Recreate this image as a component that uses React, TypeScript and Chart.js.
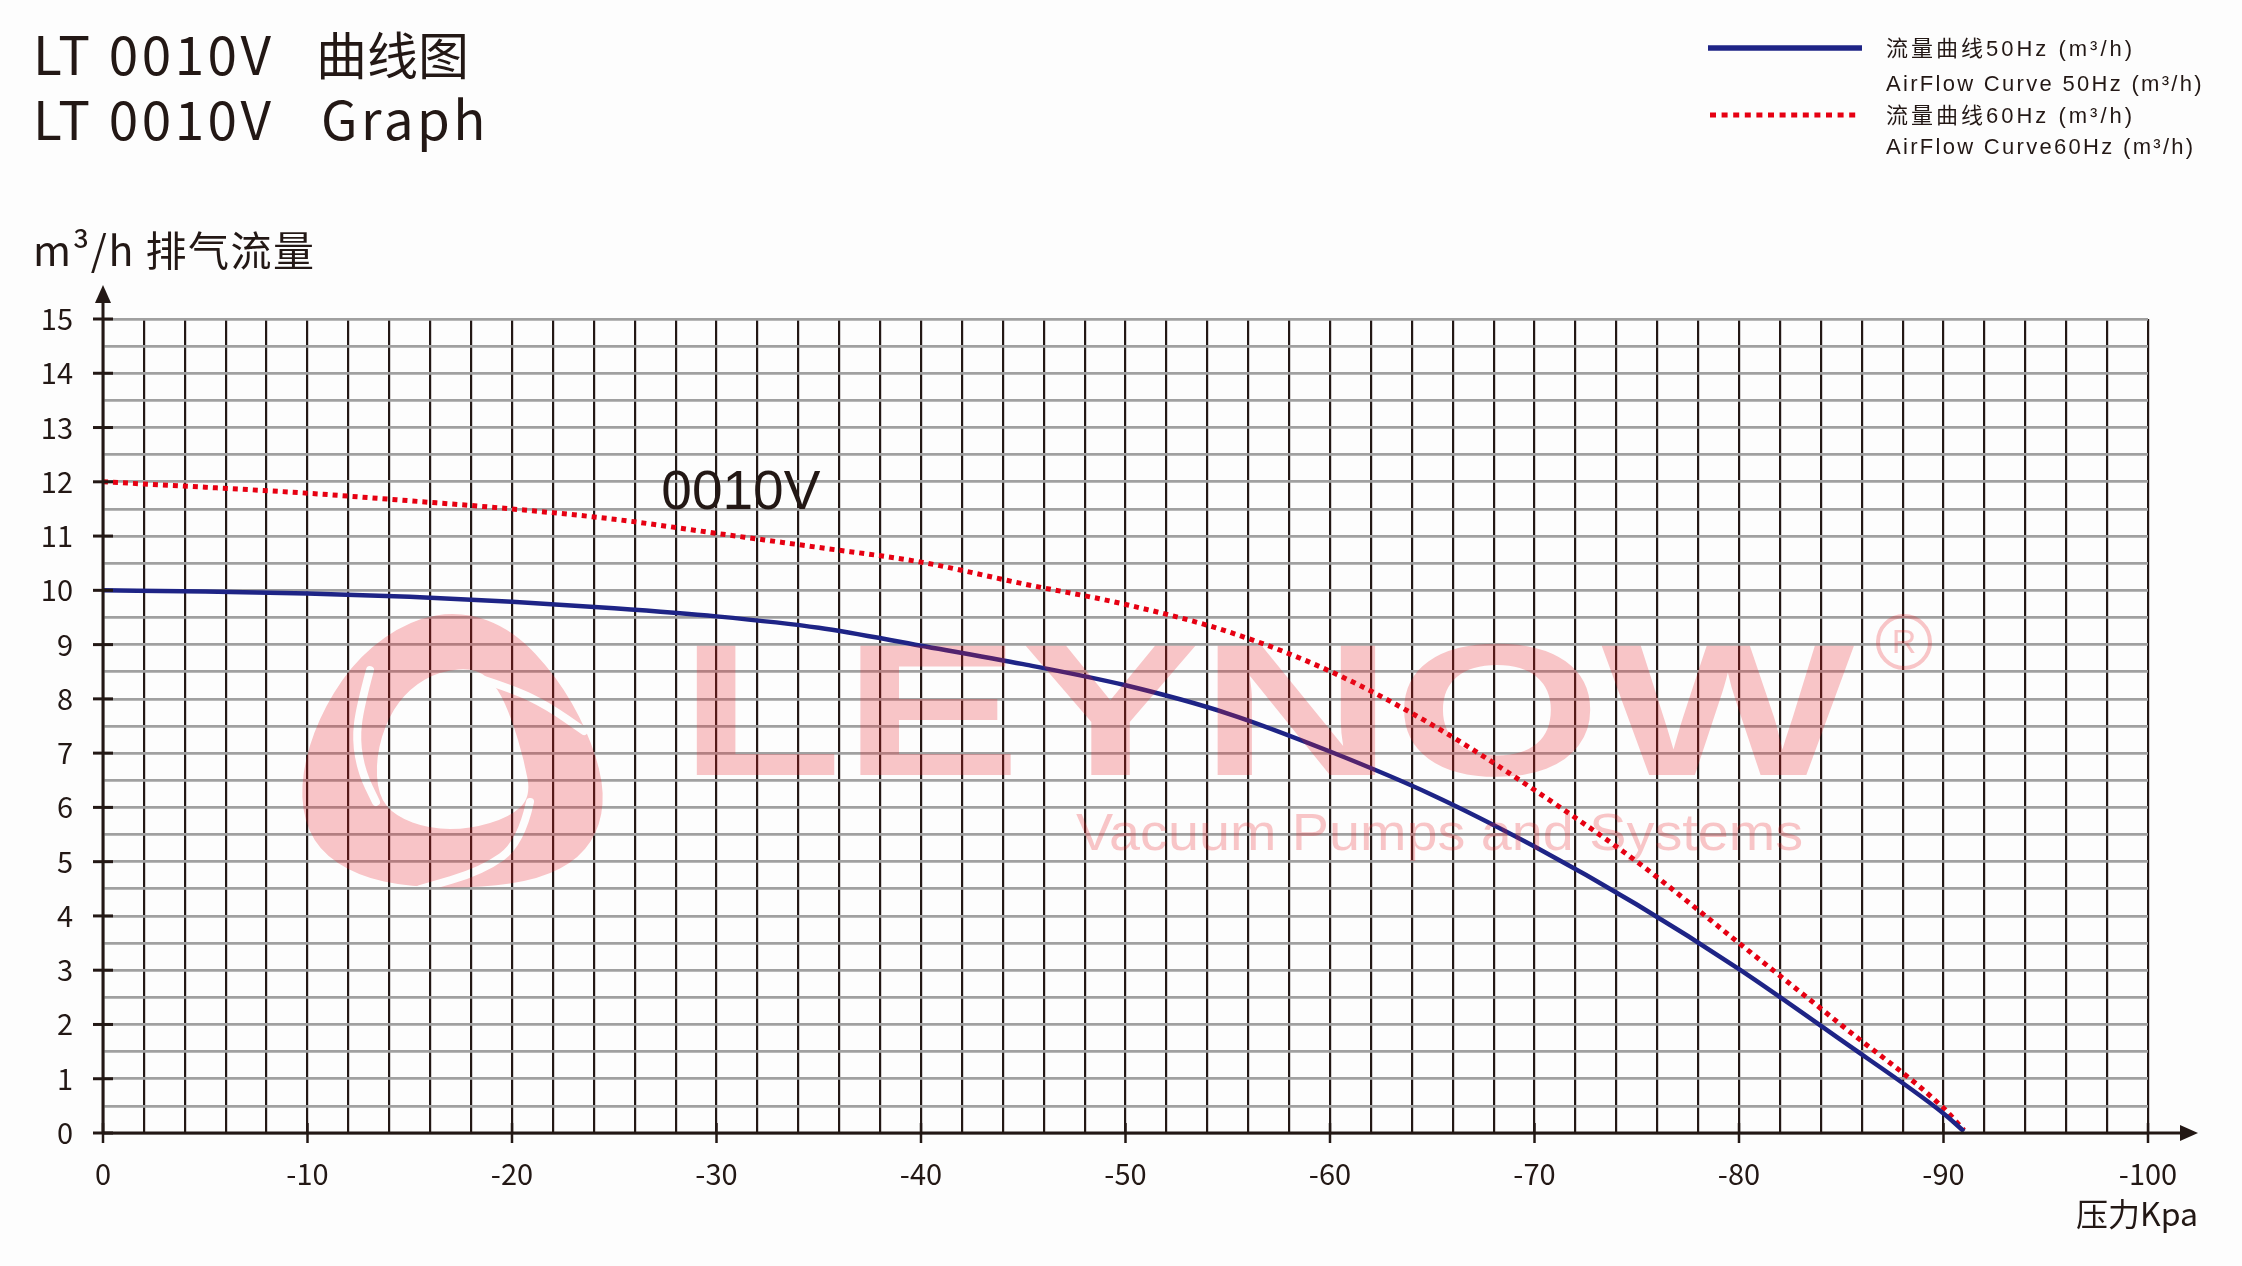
import React, { useEffect, useRef } from 'react';
import { Chart, registerables } from 'chart.js';

Chart.register(...registerables);

// ---------- data ----------
const pressure50 = [0, -5, -10, -15, -20, -25, -30, -35, -40, -45, -50, -55, -60, -65, -70, -75, -80, -85, -90, -91];
const flow50 = [10.0, 9.98, 9.94, 9.88, 9.79, 9.67, 9.52, 9.31, 8.98, 8.64, 8.25, 7.73, 7.03, 6.23, 5.28, 4.21, 3.02, 1.71, 0.36, 0.03];

const pressure60 = [0, -5, -10, -15, -20, -25, -30, -35, -40, -45, -50, -55, -60, -65, -70, -75, -80, -85, -90, -91];
const flow60 = [12.0, 11.9, 11.79, 11.65, 11.5, 11.31, 11.05, 10.79, 10.52, 10.12, 9.74, 9.24, 8.51, 7.52, 6.32, 5.0, 3.5, 1.99, 0.46, 0.05];

const xTickLabels = [0, -10, -20, -30, -40, -50, -60, -70, -80, -90, -100];
const yTickLabels = [0, 1, 2, 3, 4, 5, 6, 7, 8, 9, 10, 11, 12, 13, 14, 15];

const titleLines = [['LT 0010V', '曲线图'], ['LT 0010V', 'Graph']];
const yAxisTitle = 'm³/h 排气流量';
const xAxisTitle = '压力Kpa';
const legend50 = ['流量曲线50Hz (m³/h)', 'AirFlow Curve 50Hz (m³/h)'];
const legend60 = ['流量曲线60Hz (m³/h)', 'AirFlow Curve60Hz (m³/h)'];
const modelLabel = '0010V';
const modelLabelAt = { x: -27.4, y: 11.5 };

const COLOR50 = '#1e2486';
const COLOR60 = '#e60012';
const INK = '#231815';
const CJK = '"Noto Sans CJK SC", "Noto Sans", sans-serif';

// ---------- watermark geometry (decoration) ----------
const LOGO_OUTER: number[][] = [
  [462, 611], [513, 630], [557, 677], [587, 730], [604, 783], [601, 825], [580, 858], [540, 879],
  [480, 888], [410, 887], [358, 876], [318, 850], [301, 810], [304, 760], [325, 705], [360, 655], [410, 620],
];
const LOGO_HOLE: number[][] = [
  [477, 668], [498, 688], [512, 720], [524, 760], [531, 797], [510, 817], [470, 829], [430, 829],
  [395, 816], [378, 795], [376, 757], [388, 717], [410, 688], [440, 671],
];
const LOGO_SLITS: number[][][] = [
  [[370, 670], [360, 707], [356, 740], [362, 773], [376, 802]],
  [[472, 676], [513, 689], [548, 706], [584, 731]],
  [[530, 802], [521, 843], [482, 871], [420, 889]],
];

function closedSmooth(o: CanvasRenderingContext2D, pts: number[][]) {
  const n = pts.length;
  const mid = (a: number[], b: number[]) => [(a[0] + b[0]) / 2, (a[1] + b[1]) / 2];
  const m0 = mid(pts[n - 1], pts[0]);
  o.moveTo(m0[0], m0[1]);
  for (let i = 0; i < n; i++) {
    const p = pts[i];
    const m = mid(p, pts[(i + 1) % n]);
    o.quadraticCurveTo(p[0], p[1], m[0], m[1]);
  }
  o.closePath();
}

function openSmooth(o: CanvasRenderingContext2D, pts: number[][]) {
  o.moveTo(pts[0][0], pts[0][1]);
  for (let i = 1; i < pts.length - 1; i++) {
    const m = [(pts[i][0] + pts[i + 1][0]) / 2, (pts[i][1] + pts[i + 1][1]) / 2];
    o.quadraticCurveTo(pts[i][0], pts[i][1], m[0], m[1]);
  }
  const l = pts[pts.length - 1];
  o.lineTo(l[0], l[1]);
}

function drawWatermark(ctx: CanvasRenderingContext2D, w: number, h: number) {
  const pink = 'rgb(235, 30, 40)';
  const alpha = 0.25;
  // logo
  const off = document.createElement('canvas');
  off.width = w;
  off.height = h;
  const o = off.getContext('2d')!;
  o.fillStyle = pink;
  o.beginPath();
  closedSmooth(o, LOGO_OUTER);
  closedSmooth(o, LOGO_HOLE);
  o.fill('evenodd');
  o.globalCompositeOperation = 'destination-out';
  o.lineCap = 'round';
  o.lineWidth = 8;
  for (const s of LOGO_SLITS) {
    o.beginPath();
    openSmooth(o, s);
    o.stroke();
  }
  ctx.save();
  ctx.setTransform(1, 0, 0, 1, 0, 0);
  const dpr = ctx.canvas.width / w;
  ctx.globalAlpha = alpha;
  ctx.drawImage(off, 0, 0, w * dpr, h * dpr);
  ctx.restore();

  ctx.save();
  ctx.globalAlpha = alpha;
  ctx.fillStyle = pink;
  ctx.strokeStyle = pink;
  // LEYNOW
  ctx.font = 'bold 188px "Liberation Sans", Arial, sans-serif';
  ctx.textBaseline = 'alphabetic';
  ctx.textAlign = 'left';
  let m = ctx.measureText('LEYNOW');
  let gw = m.actualBoundingBoxLeft + m.actualBoundingBoxRight;
  let sx = 1159 / gw;
  ctx.save();
  ctx.translate(696 + m.actualBoundingBoxLeft * sx, 775);
  ctx.scale(sx, 1);
  ctx.fillText('LEYNOW', 0, 0);
  ctx.restore();
  // registered mark
  ctx.lineWidth = 4;
  ctx.beginPath();
  ctx.arc(1904, 642, 26, 0, Math.PI * 2);
  ctx.stroke();
  ctx.font = '34px "Liberation Sans", Arial, sans-serif';
  ctx.textAlign = 'center';
  ctx.textBaseline = 'middle';
  ctx.fillText('R', 1904, 644);
  // tagline
  ctx.font = '52px "Liberation Sans", Arial, sans-serif';
  ctx.textAlign = 'left';
  ctx.textBaseline = 'alphabetic';
  m = ctx.measureText('Vacuum Pumps and Systems');
  gw = m.actualBoundingBoxLeft + m.actualBoundingBoxRight;
  sx = 726 / gw;
  ctx.translate(1076 + m.actualBoundingBoxLeft * sx, 850);
  ctx.scale(sx, 1);
  ctx.fillText('Vacuum Pumps and Systems', 0, 0);
  ctx.restore();
}

const decorPlugin = {
  id: 'decor',
  afterDraw(chart: any) {
    const ctx: CanvasRenderingContext2D = chart.ctx;
    const xs = chart.scales.x;
    const ys = chart.scales.y;
    const x0 = xs.getPixelForValue(0);
    const y0 = ys.getPixelForValue(0);
    const yTop = ys.getPixelForValue(15);
    const xEnd = xs.getPixelForValue(-100);

    ctx.save();
    ctx.strokeStyle = INK;
    ctx.fillStyle = INK;
    // axes
    ctx.lineWidth = 3;
    ctx.beginPath();
    ctx.moveTo(x0, y0 + 1);
    ctx.lineTo(x0, yTop - 20);
    ctx.stroke();
    ctx.beginPath();
    ctx.moveTo(x0, yTop - 34);
    ctx.lineTo(x0 - 8, yTop - 16);
    ctx.lineTo(x0 + 8, yTop - 16);
    ctx.closePath();
    ctx.fill();

    ctx.lineWidth = 3;
    ctx.beginPath();
    ctx.moveTo(x0 - 1, y0);
    ctx.lineTo(xEnd + 35, y0);
    ctx.stroke();
    ctx.beginPath();
    ctx.moveTo(xEnd + 50, y0);
    ctx.lineTo(xEnd + 32, y0 - 8);
    ctx.lineTo(xEnd + 32, y0 + 8);
    ctx.closePath();
    ctx.fill();

    // ticks
    ctx.lineWidth = 3;
    for (const v of yTickLabels) {
      const py = ys.getPixelForValue(v);
      ctx.beginPath();
      ctx.moveTo(x0 - 10, py);
      ctx.lineTo(x0 + 10, py);
      ctx.stroke();
    }
    ctx.lineWidth = 2.5;
    for (const v of xTickLabels) {
      const px = xs.getPixelForValue(v);
      ctx.beginPath();
      ctx.moveTo(px, y0 - 10);
      ctx.lineTo(px, y0 + 10);
      ctx.stroke();
    }

    // titles
    ctx.textAlign = 'left';
    ctx.textBaseline = 'alphabetic';
    ctx.font = `53px ${CJK}`;
    (ctx as any).letterSpacing = '3.5px';
    ctx.fillText(titleLines[0][0], 33, 75);
    ctx.fillText(titleLines[1][0], 33, 140);
    ctx.fillText(titleLines[1][1], 321, 140);
    (ctx as any).letterSpacing = '0px';
    ctx.font = `51px ${CJK}`;
    ctx.fillText(titleLines[0][1], 316, 75);

    (ctx as any).letterSpacing = '1.5px';
    ctx.font = `41px ${CJK}`;
    ctx.fillText(yAxisTitle, 33, 266);
    (ctx as any).letterSpacing = '0px';

    ctx.font = `32px ${CJK}`;
    ctx.textAlign = 'right';
    ctx.fillText(xAxisTitle, xEnd + 50, 1226);

    // model label
    ctx.textAlign = 'left';
    ctx.font = '55px "Liberation Sans", Arial, sans-serif';
    ctx.fillText(modelLabel, xs.getPixelForValue(modelLabelAt.x) - 2, ys.getPixelForValue(modelLabelAt.y));

    // legend
    ctx.strokeStyle = COLOR50;
    ctx.lineWidth = 5.5;
    ctx.beginPath();
    ctx.moveTo(1708, 48);
    ctx.lineTo(1862, 48);
    ctx.stroke();
    ctx.strokeStyle = COLOR60;
    ctx.lineWidth = 5;
    ctx.setLineDash([6, 5.6]);
    ctx.beginPath();
    ctx.moveTo(1710, 115);
    ctx.lineTo(1860, 115);
    ctx.stroke();
    ctx.setLineDash([]);
    ctx.fillStyle = INK;
    ctx.font = '22px "Liberation Sans", "Noto Sans CJK SC", sans-serif';
    (ctx as any).letterSpacing = '3px';
    ctx.fillText(legend50[0], 1886, 56);
    ctx.fillText(legend60[0], 1886, 123);
    (ctx as any).letterSpacing = '2.3px';
    ctx.fillText(legend50[1], 1886, 91);
    ctx.fillText(legend60[1], 1886, 154);
    (ctx as any).letterSpacing = '0px';
    ctx.restore();

    drawWatermark(ctx, chart.width, chart.height);
  },
};

export default function App() {
  const ref = useRef<HTMLCanvasElement | null>(null);

  useEffect(() => {
    document.body.style.margin = '0';
    document.body.style.overflow = 'hidden';
    const canvas = ref.current!;
    const chart = new Chart(canvas, {
      type: 'line',
      data: {
        datasets: [
          {
            label: legend50[1],
            data: pressure50.map((x, i) => ({ x, y: flow50[i] })),
            borderColor: COLOR50,
            borderWidth: 4.5,
            pointRadius: 0,
            cubicInterpolationMode: 'monotone',
            fill: false,
          },
          {
            label: legend60[1],
            data: pressure60.map((x, i) => ({ x, y: flow60[i] })),
            borderColor: COLOR60,
            borderWidth: 5,
            borderDash: [5, 5],
            pointRadius: 0,
            cubicInterpolationMode: 'monotone',
            fill: false,
          },
        ],
      },
      options: {
        animation: false,
        responsive: false,
        maintainAspectRatio: false,
        layout: { padding: { left: 0, right: 94, top: 319, bottom: 73 } },
        plugins: { legend: { display: false }, tooltip: { enabled: false }, title: { display: false } },
        scales: {
          x: {
            type: 'linear',
            reverse: true,
            min: -100,
            max: 0,
            afterFit: (s: any) => {
              s.height = 60;
            },
            grid: { color: INK, lineWidth: 2.2, drawTicks: false },
            border: { display: false },
            ticks: {
              stepSize: 2,
              autoSkip: false,
              maxRotation: 0,
              padding: 24,
              color: INK,
              font: { family: 'Noto Sans CJK SC', size: 29 },
              callback: (v: any) => (xTickLabels.includes(Number(v)) ? String(v) : ''),
            },
          },
          y: {
            type: 'linear',
            min: 0,
            max: 15,
            afterFit: (s: any) => {
              s.width = 103;
            },
            grid: { color: '#a0a0a0', lineWidth: 2.7, drawTicks: false },
            border: { display: false },
            ticks: {
              stepSize: 0.5,
              autoSkip: false,
              padding: 30,
              color: INK,
              font: { family: 'Noto Sans CJK SC', size: 29 },
              callback: (v: any) => (yTickLabels.includes(Number(v)) ? String(v) : ''),
            },
          },
        },
      },
      plugins: [decorPlugin],
    } as any);
    return () => chart.destroy();
  }, []);

  return (
    <div style={{ position: 'absolute', left: 0, top: 0, width: 2242, height: 1266, background: '#fdfdfd' }}>
      <canvas ref={ref} width={2242} height={1266} style={{ width: 2242, height: 1266, display: 'block' }} />
    </div>
  );
}
